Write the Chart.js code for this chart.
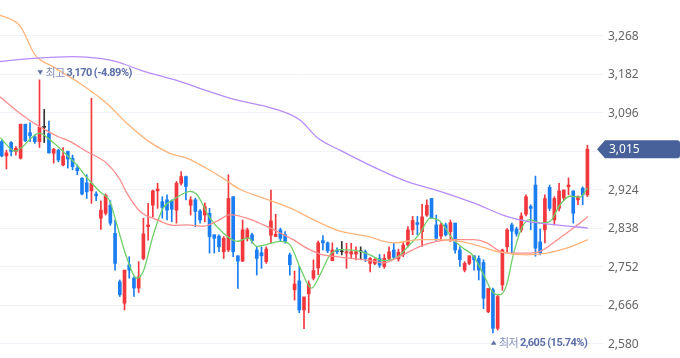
<!DOCTYPE html>
<html><head><meta charset="utf-8">
<script src="https://cdn.jsdelivr.net/npm/chart.js@4"></script>
<style>html,body{margin:0;padding:0;background:#fff;}#wrap{width:680px;height:358px;}</style>
</head><body><div id="wrap"><canvas id="c" width="680" height="358"></canvas></div>
<script>
const opens = [3032,3000,3030,3010,2995,3071,3052,3043,3032,3064,
3050,3006,3013,2980,3010,2995,2973,2950,2940,2922,
2915,2861,2872,2890,2827,2719,2671,2757,2727,2705,
2771,2842,2890,2922,2898,2902,2900,2879,2939,2954,
2890,2902,2877,2868,2872,2824,2821,2786,2790,2909,
2777,2765,2816,2824,2790,2784,2764,2823,2820,2835,
2824,2779,2701,2721,2656,2692,2727,2750,2811,2806,
2766,2790,2786,2783,2781,2781,2786,2786,2760,2760,
2771,2753,2771,2790,2770,2780,2801,2835,2851,2831,
2868,2905,2846,2821,2846,2831,2850,2790,2745,2760,
2777,2771,2762,2652,2701,2615,2712,2797,2846,2837,
2835,2870,2887,2935,2808,2835,2930,2857,2883,2906,
2931,2922,2902,2928,2913];
const highs = [3035,3013,3032,3021,3071,3071,3074,3047,3170,3104,
3078,3017,3015,3019,3011,3002,2980,2952,2958,3129,
2920,2900,2915,2900,2857,2723,2745,2775,2730,2764,
2861,2894,2924,2939,2909,2913,2902,2943,2965,2955,
2909,2906,2880,2895,2883,2824,2824,2820,2958,2909,
2777,2857,2839,2828,2797,2797,2797,2924,2870,2839,
2831,2783,2743,2754,2685,2721,2768,2810,2822,2808,
2806,2795,2809,2805,2805,2797,2797,2790,2773,2771,
2780,2780,2797,2805,2792,2808,2842,2865,2865,2892,
2902,2905,2868,2850,2850,2857,2850,2797,2764,2777,
2777,2777,2768,2704,2705,2690,2792,2838,2850,2841,
2873,2913,2891,2955,2837,2913,2935,2909,2939,2924,
2951,2922,2911,2931,3024];
const lows = [2998,2971,3000,3002,2993,3032,3032,3028,3019,3030,
3006,2984,2987,2978,2973,2969,2958,2913,2905,2894,
2900,2836,2868,2845,2745,2686,2656,2727,2686,2695,
2768,2812,2864,2883,2861,2857,2853,2850,2935,2902,
2868,2842,2850,2853,2783,2783,2786,2771,2786,2775,
2704,2764,2810,2805,2734,2749,2760,2805,2820,2810,
2805,2734,2678,2650,2614,2650,2723,2735,2790,2784,
2766,2782,2779,2749,2771,2768,2768,2764,2741,2757,
2751,2749,2768,2771,2765,2775,2797,2824,2824,2798,
2865,2860,2811,2811,2821,2809,2783,2753,2741,2757,
2745,2723,2659,2650,2605,2611,2700,2786,2783,2821,
2830,2866,2835,2776,2779,2806,2878,2846,2877,2900,
2913,2850,2891,2891,2909];
const closes = [3000,3007,3010,3017,3071,3034,3045,3032,3064,3064,
3007,3015,2991,3000,2993,2976,2967,2915,2920,2939,
2911,2879,2912,2850,2760,2690,2745,2745,2705,2730,
2826,2846,2922,2926,2885,2879,2881,2939,2954,2932,
2902,2876,2857,2887,2820,2816,2797,2816,2905,2786,
2765,2835,2835,2811,2771,2777,2792,2855,2825,2816,
2809,2757,2714,2656,2685,2714,2744,2806,2806,2788,
2790,2786,2786,2786,2786,2786,2786,2771,2771,2769,
2756,2771,2786,2774,2785,2801,2835,2856,2847,2864,
2890,2861,2816,2846,2824,2851,2790,2768,2760,2777,
2768,2745,2682,2704,2615,2686,2790,2835,2832,2826,
2866,2909,2883,2794,2783,2905,2883,2905,2922,2924,
2935,2872,2909,2913,3015];

const ma5Idx = [-0.3,2.8,8,10.2,13,15.9,18,20.8,22.9,24,26.5,28.6,30,32.1,34.2,36.3,39.9,41.3,44.1,46.9,49.8,52.2,54,56.1,58.9,61,63.2,65.6,67.4,69.5,71.6,75.9,78,80.8,84,85.7,88.6,90.7,92.8,95.6,97.7,99.9,102,104.1,105.5,106.9,108.3,110.1,111.8,114,116.1,118.2,120.3,122.4,124];
const ma5Val = [3041,3011,3051,3036,3010,2980,2952,2920,2899,2861,2772,2727,2743,2824,2884,2902,2921,2914,2861,2828,2809,2817,2798,2802,2809,2802,2750,2705,2735,2779,2791,2787,2779,2766,2776,2794,2828,2861,2854,2813,2794,2776,2735,2694,2690,2712,2779,2839,2858,2850,2854,2891,2910,2908,2928];
const ma20Idx = [-0.36,3.9,8.1,12,14.5,18,22.2,25,26.5,29.3,32.8,36.3,39.2,42.7,46.2,48.3,51.9,55.4,58.2,61.7,64.6,67.4,71.6,78.7,80.8,84.3,88.6,92.1,95.6,99.9,102.7,105.5,108.3,111.2,114,116.8,119.6,122.4,124.1];
const ma20Val = [3132,3095,3065,3043,3032,3010,2984,2948,2917,2876,2858,2845,2846,2843,2858,2869,2861,2846,2832,2813,2794,2781,2774,2765,2761,2776,2798,2809,2813,2813,2806,2787,2783,2783,2787,2806,2828,2850,2865];
const ma60Idx = [-0.36,3.9,7.05,10.9,16.6,22.2,26.5,30.7,35.6,39.2,43.4,46.9,50.5,55.4,61,66.7,71.6,77.3,82.9,88.6,92.8,97,101.3,105.5,111.2,115.4,119.6,124.1];
const ma60Val = [3315,3290,3226,3199,3162,3118,3073,3036,3006,2995,2972,2950,2925,2906,2884,2854,2832,2821,2806,2813,2813,2809,2798,2785,2779,2783,2794,2813];
const ma120Idx = [-0.36,6.7,15.2,20.8,24.3,29.3,37.8,43.4,49,57.5,63.2,66.7,71.6,85,92.8,99.9,106.9,111.2,117.5,124.1];
const ma120Val = [3211,3218,3222,3218,3211,3192,3166,3146,3127,3106,3080,3042,3013,2946,2921,2895,2865,2854,2846,2839];

const yTicks = [2580,2666,2752,2838,2924,3010,3096,3182,3268];
const hiddenTick = 3010;
const highIdx = 8, highVal = 3170, highLabel = '최고', highText = '3,170 (-4.89%)';
const lowIdx = 104, lowVal = 2605, lowLabel = '최저', lowText = '2,605 (15.74%)';
const lastPrice = 3015, lastPriceText = '3,015';

const UP = '#f2373d', DOWN = '#1a7ef2', FLAT = '#333333';
const colorAt = i => closes[i] > opens[i] ? UP : (closes[i] < opens[i] ? DOWN : FLAT);
const ids = opens.map((_, i) => i);
const wickData = ids.map(i => ({x: i, y: [lows[i], highs[i]]}));
const bodyData = ids.map(i => ({x: i, y: [opens[i], closes[i]]}));
const pts = (xs, ys) => xs.map((x, k) => ({x: x, y: ys[k]}));

function lineDs(data, color){
  return {type:'line', data, borderColor: color, borderWidth: 1.3, pointRadius: 0,
    cubicInterpolationMode: 'monotone', fill: false, order: 0};
}

function drawMarker(ctx, px, py, up, label, text){
  ctx.fillStyle = '#6070a6';
  ctx.beginPath();
  if (up) { ctx.moveTo(px - 2, py + 2); ctx.lineTo(px + 3.5, py + 2); ctx.lineTo(px + 0.75, py - 2.5); }
  else { ctx.moveTo(px - 2, py - 2.5); ctx.lineTo(px + 3.5, py - 2.5); ctx.lineTo(px + 0.75, py + 2); }
  ctx.closePath(); ctx.fill();
  ctx.font = '11px "Noto Sans CJK KR"'; ctx.fillStyle = '#8490be';
  ctx.letterSpacing = '-0.5px';
  ctx.fillText(label, px + 6, py);
  ctx.font = 'bold 11px Roboto'; ctx.fillStyle = '#5b6ea8';
  ctx.letterSpacing = '-0.55px';
  ctx.fillText(text, px + 27, py);
  ctx.letterSpacing = '0px';
}

const annot = {
  id: 'annot',
  afterDatasetsDraw(chart){
    const {ctx, scales: {x, y}} = chart;
    ctx.save();
    ctx.textBaseline = 'middle'; ctx.textAlign = 'left';
    ctx.font = '12px "Noto Sans"'; ctx.fillStyle = '#666666';
    yTicks.forEach(v => {
      if (v === hiddenTick) return;
      ctx.fillText(v.toLocaleString('en-US'), x.right + 5, y.getPixelForValue(v) + 0.5);
    });
    drawMarker(ctx, x.getPixelForValue(highIdx), y.getPixelForValue(highVal) - 7, false, highLabel, highText);
    drawMarker(ctx, x.getPixelForValue(lowIdx), y.getPixelForValue(lowVal) + 10, true, lowLabel, lowText);
    const ty = y.getPixelForValue(lastPrice);
    const left = x.right - 6, bx = x.right + 2, right = chart.width, h = 18, r = 3;
    ctx.fillStyle = '#48619b';
    ctx.beginPath();
    ctx.moveTo(left, ty);
    ctx.lineTo(bx, ty - h / 2);
    ctx.lineTo(right - r, ty - h / 2);
    ctx.quadraticCurveTo(right, ty - h / 2, right, ty - h / 2 + r);
    ctx.lineTo(right, ty + h / 2 - r);
    ctx.quadraticCurveTo(right, ty + h / 2, right - r, ty + h / 2);
    ctx.lineTo(bx, ty + h / 2);
    ctx.closePath(); ctx.fill();
    ctx.fillStyle = '#ffffff'; ctx.font = '12px "Noto Sans"';
    ctx.fillText(lastPriceText, x.right + 6, ty + 0.5);
    ctx.restore();
  }
};

new Chart(document.getElementById('c'), {
  type: 'bar',
  data: {
    datasets: [
      lineDs(pts(ma120Idx, ma120Val), '#b88cfb'),
      lineDs(pts(ma60Idx, ma60Val), '#ffb47c'),
      lineDs(pts(ma20Idx, ma20Val), '#ff8d8d'),
      lineDs(pts(ma5Idx, ma5Val), '#6fd06a'),
      {type:'bar', data: bodyData, backgroundColor: ctx => colorAt(ctx.dataIndex), barThickness: 3, minBarLength: 1, grouped: false, order: 1, borderWidth: 0},
      {type:'bar', data: wickData, backgroundColor: ctx => colorAt(ctx.dataIndex), barThickness: 1, grouped: false, order: 2, borderWidth: 0}
    ]
  },
  options: {
    responsive: false, animation: false,
    layout: {padding: 0},
    plugins: {legend: {display: false}, tooltip: {enabled: false}},
    scales: {
      x: {type: 'linear', min: -0.36, max: 127.3, display: false, offset: false},
      y: {
        position: 'right', min: 2548.7, max: 3348.4,
        afterBuildTicks: s => { s.ticks = yTicks.map(v => ({value: v})); },
        afterFit: s => { s.width = 77; },
        grid: {color: '#f1f3f8', drawTicks: false},
        border: {display: false},
        ticks: {display: false}
      }
    }
  },
  plugins: [annot]
});
</script></body></html>
